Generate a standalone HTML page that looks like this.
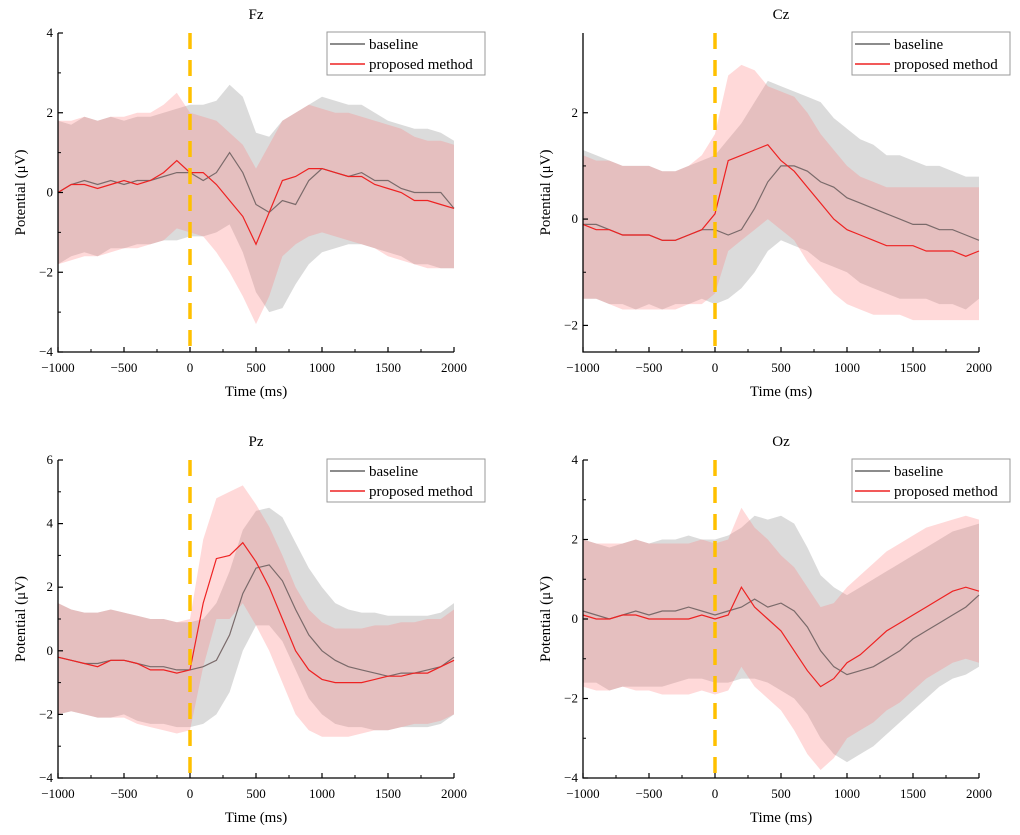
<!DOCTYPE html>
<html><head><meta charset="utf-8">
<style>
body{margin:0;background:#fff;}
svg{display:block;font-family:"Liberation Serif",serif;}
</style></head>
<body>
<svg id="chart" width="1020" height="835" viewBox="0 0 1020 835"></svg>
<script>
// Shared time axis (ms)
const times = [-1000,-900,-800,-700,-600,-500,-400,-300,-200,-100,0,100,200,300,400,500,600,700,800,900,1000,1100,1200,1300,1400,1500,1600,1700,1800,1900,2000];
const xTicks = [-1000,-500,0,500,1000,1500,2000];

// Fz
const fzBase = [0,0.2,0.3,0.2,0.3,0.2,0.3,0.3,0.4,0.5,0.5,0.3,0.5,1.0,0.5,-0.3,-0.5,-0.2,-0.3,0.3,0.6,0.5,0.4,0.5,0.3,0.3,0.1,0.0,0.0,0.0,-0.4];
const fzProp = [0,0.2,0.2,0.1,0.2,0.3,0.2,0.3,0.5,0.8,0.5,0.5,0.2,-0.2,-0.6,-1.3,-0.5,0.3,0.4,0.6,0.6,0.5,0.4,0.4,0.2,0.1,0.0,-0.2,-0.2,-0.3,-0.4];
const fzBaseUp = [1.8,1.7,1.9,1.8,1.9,1.8,1.9,1.9,2.0,2.1,2.2,2.2,2.3,2.7,2.4,1.5,1.4,1.8,2.0,2.2,2.4,2.3,2.2,2.2,2.0,1.8,1.7,1.6,1.6,1.5,1.3];
const fzBaseLo = [-1.8,-1.6,-1.5,-1.6,-1.4,-1.4,-1.3,-1.3,-1.2,-1.2,-1.1,-1.1,-1.0,-0.8,-1.5,-2.5,-3.0,-2.9,-2.3,-1.8,-1.5,-1.4,-1.3,-1.3,-1.4,-1.5,-1.6,-1.8,-1.8,-1.9,-1.9];
const fzPropUp = [1.8,1.8,1.9,1.8,1.9,1.9,2.0,2.0,2.2,2.5,2.0,1.9,1.8,1.5,1.2,0.6,1.2,1.8,2.0,2.2,2.1,2.0,2.0,1.9,1.8,1.7,1.6,1.4,1.3,1.3,1.2];
const fzPropLo = [-1.8,-1.7,-1.6,-1.6,-1.5,-1.4,-1.4,-1.3,-1.2,-0.9,-1.0,-1.1,-1.5,-2.0,-2.6,-3.3,-2.6,-1.6,-1.3,-1.1,-1.0,-1.1,-1.2,-1.3,-1.4,-1.6,-1.7,-1.8,-1.9,-1.9,-1.9];
const fzYTicks = [-4,-2,0,2,4];

// Cz
const czBase = [-0.1,-0.1,-0.2,-0.3,-0.3,-0.3,-0.4,-0.4,-0.3,-0.2,-0.2,-0.3,-0.2,0.2,0.7,1.0,1.0,0.9,0.7,0.6,0.4,0.3,0.2,0.1,0.0,-0.1,-0.1,-0.2,-0.2,-0.3,-0.4];
const czProp = [-0.1,-0.2,-0.2,-0.3,-0.3,-0.3,-0.4,-0.4,-0.3,-0.2,0.1,1.1,1.2,1.3,1.4,1.1,0.9,0.6,0.3,0.0,-0.2,-0.3,-0.4,-0.5,-0.5,-0.5,-0.6,-0.6,-0.6,-0.7,-0.6];
const czBaseUp = [1.3,1.2,1.1,1.0,1.0,1.0,0.9,0.9,1.0,1.1,1.2,1.5,1.8,2.2,2.6,2.5,2.4,2.3,2.2,1.9,1.7,1.5,1.4,1.2,1.2,1.1,1.0,1.0,0.9,0.8,0.8];
const czBaseLo = [-1.5,-1.5,-1.6,-1.6,-1.7,-1.6,-1.7,-1.6,-1.6,-1.5,-1.6,-1.5,-1.3,-1.0,-0.6,-0.4,-0.5,-0.6,-0.8,-0.9,-1.0,-1.2,-1.3,-1.4,-1.5,-1.5,-1.5,-1.6,-1.6,-1.7,-1.5];
const czPropUp = [1.2,1.1,1.1,1.0,1.0,1.0,0.9,0.9,1.0,1.2,1.6,2.7,2.9,2.8,2.5,2.4,2.3,2.0,1.6,1.3,1.0,0.8,0.7,0.6,0.6,0.6,0.6,0.6,0.6,0.6,0.6];
const czPropLo = [-1.5,-1.5,-1.6,-1.7,-1.7,-1.7,-1.7,-1.7,-1.6,-1.6,-1.4,-0.6,-0.4,-0.2,0.0,-0.2,-0.4,-0.8,-1.1,-1.4,-1.6,-1.7,-1.8,-1.8,-1.8,-1.9,-1.9,-1.9,-1.9,-1.9,-1.9];
const czYTicks = [-2,0,2];

// Pz
const pzBase = [-0.2,-0.3,-0.4,-0.4,-0.3,-0.3,-0.4,-0.5,-0.5,-0.6,-0.6,-0.5,-0.3,0.5,1.8,2.6,2.7,2.2,1.3,0.5,0.0,-0.3,-0.5,-0.6,-0.7,-0.8,-0.7,-0.7,-0.6,-0.5,-0.2];
const pzProp = [-0.2,-0.3,-0.4,-0.5,-0.3,-0.3,-0.4,-0.6,-0.6,-0.7,-0.6,1.5,2.9,3.0,3.4,2.8,2.0,1.0,0.0,-0.6,-0.9,-1.0,-1.0,-1.0,-0.9,-0.8,-0.8,-0.7,-0.7,-0.5,-0.3];
const pzBaseUp = [1.5,1.3,1.2,1.2,1.3,1.2,1.1,1.0,1.0,0.9,0.9,1.0,1.5,2.5,3.8,4.4,4.5,4.2,3.4,2.6,2.0,1.5,1.3,1.2,1.2,1.1,1.1,1.1,1.1,1.2,1.5];
const pzBaseLo = [-2.0,-1.9,-2.0,-2.1,-2.1,-2.0,-2.2,-2.3,-2.3,-2.4,-2.4,-2.3,-2.0,-1.3,0.0,0.8,0.8,0.3,-0.6,-1.5,-2.0,-2.3,-2.4,-2.4,-2.5,-2.5,-2.4,-2.4,-2.4,-2.3,-2.0];
const pzPropUp = [1.5,1.3,1.2,1.2,1.3,1.2,1.1,1.0,1.0,0.9,1.0,3.5,4.8,5.0,5.2,4.6,3.9,3.0,2.0,1.3,0.9,0.7,0.7,0.7,0.8,0.8,0.9,0.9,1.0,1.0,1.3];
const pzPropLo = [-2.0,-1.9,-2.0,-2.1,-2.1,-2.1,-2.3,-2.4,-2.5,-2.6,-2.5,-0.5,1.0,1.0,1.5,0.8,0.0,-1.0,-2.0,-2.5,-2.7,-2.7,-2.7,-2.6,-2.5,-2.5,-2.4,-2.3,-2.3,-2.2,-2.0];
const pzYTicks = [-4,-2,0,2,4,6];

// Oz
const ozBase = [0.2,0.1,0.0,0.1,0.2,0.1,0.2,0.2,0.3,0.2,0.1,0.2,0.3,0.5,0.3,0.4,0.2,-0.2,-0.8,-1.2,-1.4,-1.3,-1.2,-1.0,-0.8,-0.5,-0.3,-0.1,0.1,0.3,0.6];
const ozProp = [0.1,0.0,0.0,0.1,0.1,0.0,0.0,0.0,0.0,0.1,0.0,0.1,0.8,0.3,0.0,-0.3,-0.8,-1.3,-1.7,-1.5,-1.1,-0.9,-0.6,-0.3,-0.1,0.1,0.3,0.5,0.7,0.8,0.7];
const ozBaseUp = [2.0,1.9,1.8,1.9,2.0,1.9,2.0,2.0,2.1,2.0,2.0,2.1,2.3,2.6,2.5,2.6,2.4,1.8,1.1,0.8,0.6,0.8,1.0,1.2,1.4,1.6,1.8,2.0,2.2,2.3,2.4];
const ozBaseLo = [-1.6,-1.6,-1.8,-1.7,-1.7,-1.7,-1.7,-1.6,-1.5,-1.5,-1.6,-1.6,-1.5,-1.5,-1.6,-1.8,-2.0,-2.4,-3.0,-3.4,-3.6,-3.4,-3.2,-2.9,-2.6,-2.3,-2.0,-1.7,-1.5,-1.4,-1.2];
const ozPropUp = [2.0,1.9,1.9,1.9,2.0,1.9,1.9,1.9,1.9,2.0,1.9,2.0,2.8,2.3,2.0,1.6,1.3,0.8,0.3,0.4,0.8,1.1,1.4,1.7,1.9,2.1,2.3,2.4,2.5,2.6,2.5];
const ozPropLo = [-1.7,-1.8,-1.8,-1.7,-1.8,-1.8,-1.9,-1.9,-1.9,-1.8,-1.9,-1.8,-1.2,-1.7,-2.0,-2.3,-2.8,-3.4,-3.8,-3.5,-3.0,-2.8,-2.6,-2.3,-2.1,-1.8,-1.5,-1.3,-1.1,-1.0,-1.1];
const ozYTicks = [-4,-2,0,2,4];

const NS = 'http://www.w3.org/2000/svg';
const svg = document.getElementById('chart');
function mk(tag, attrs, parent){
  const e = document.createElementNS(NS, tag);
  for (const k in attrs) e.setAttribute(k, attrs[k]);
  (parent||svg).appendChild(e);
  return e;
}
function fmt(v){ return v < 0 ? '\u2212' + Math.abs(v) : String(v); }

function panel(cfg){
  const {name,title,x0,x1,y0,y1,ymin,ymax,yTicks,base,prop,bUp,bLo,pUp,pLo} = cfg;
  const g = mk('g', {});
  
  
  const xs = t => x0 + (t - (-1000)) / 3000 * (x1 - x0);
  const ys = v => y1 - (v - ymin) / (ymax - ymin) * (y1 - y0);
  function band(up, lo, fill, nm){
    let d = 'M';
    times.forEach((t,i)=>{ d += xs(t).toFixed(1)+','+ys(up[i]).toFixed(1)+' L'; });
    for (let i=times.length-1;i>=0;i--){ d += xs(times[i]).toFixed(1)+','+ys(lo[i]).toFixed(1)+(i?' L':' Z'); }
    const p = mk('path', {d:d, fill:fill, stroke:'none'}, g);
    
    
  }
  function line(vals, col, nm){
    const pts = times.map((t,i)=>xs(t).toFixed(1)+','+ys(vals[i]).toFixed(1)).join(' ');
    const p = mk('polyline', {points:pts, fill:'none', stroke:col, 'stroke-width':1.2}, g);
    
    
  }
  band(bUp, bLo, 'rgba(170,170,170,0.42)', 'baseline-band');
  band(pUp, pLo, 'rgba(255,120,120,0.28)', 'proposed-band');
  line(base, '#7a6a6a', 'baseline-line');
  line(prop, '#ee2222', 'proposed-line');
  // dashed onset line
  const on = mk('line', {x1:xs(0), x2:xs(0), y1:y0, y2:y1, stroke:'#FFC000', 'stroke-width':3.5, 'stroke-dasharray':'16,11'}, g);
  
  
  // axes
  const ax = mk('path', {d:`M${x0},${y0} L${x0},${y1} L${x1},${y1}`, fill:'none', stroke:'#000', 'stroke-width':1.3}, g);
  
  
  xTicks.forEach(t=>{
    mk('line', {x1:xs(t), x2:xs(t), y1:y1, y2:y1-5, stroke:'#000', 'stroke-width':1.2}, g);
    if (t < 2000) mk('line', {x1:xs(t+250), x2:xs(t+250), y1:y1, y2:y1-3, stroke:'#000', 'stroke-width':1}, g);
    const tx = mk('text', {x:xs(t), y:y1+20, 'text-anchor':'middle', 'font-size':13}, g);
    tx.textContent = fmt(t);
    
    
  });
  yTicks.forEach((v,i)=>{
    mk('line', {x1:x0, x2:x0+5, y1:ys(v), y2:ys(v), stroke:'#000', 'stroke-width':1.2}, g);
    if (i < yTicks.length-1) { const m=(v+yTicks[i+1])/2; mk('line', {x1:x0, x2:x0+3, y1:ys(m), y2:ys(m), stroke:'#000', 'stroke-width':1}, g); }
    const tx = mk('text', {x:x0-5, y:ys(v)+4, 'text-anchor':'end', 'font-size':13}, g);
    tx.textContent = fmt(v);
    
    
  });
  const tt = mk('text', {x:(x0+x1)/2, y:y0-14, 'text-anchor':'middle', 'font-size':15}, g);
  tt.textContent = title;
  
  
  const xt = mk('text', {x:(x0+x1)/2, y:y1+44, 'text-anchor':'middle', 'font-size':15}, g);
  xt.textContent = 'Time (ms)';
  
  
  const cy = (y0+y1)/2, cx = x0-33;
  const yt = mk('text', {x:cx, y:cy, 'text-anchor':'middle', 'font-size':15, transform:`rotate(-90 ${cx} ${cy})`}, g);
  yt.textContent = 'Potential (\u03bcV)';
  
  
  // legend
  const lx = x0 + 269, ly = y0 - 1;
  const lg = mk('g', {}, g);
  
  
  mk('rect', {x:lx, y:ly, width:158, height:43, fill:'#fff', stroke:'#999', 'stroke-width':1}, lg);
  mk('line', {x1:lx+3, x2:lx+38, y1:ly+12, y2:ly+12, stroke:'#666', 'stroke-width':1.5}, lg);
  mk('line', {x1:lx+3, x2:lx+38, y1:ly+32, y2:ly+32, stroke:'#ee2222', 'stroke-width':1.5}, lg);
  const l1 = mk('text', {x:lx+42, y:ly+17, 'font-size':15}, lg);
  l1.textContent = 'baseline';
  
  
  const l2 = mk('text', {x:lx+42, y:ly+37, 'font-size':15}, lg);
  l2.textContent = 'proposed method';
  
  
}

panel({name:'fz',title:'Fz',x0:58,x1:454,y0:33,y1:352,ymin:-4,ymax:4,yTicks:fzYTicks,base:fzBase,prop:fzProp,bUp:fzBaseUp,bLo:fzBaseLo,pUp:fzPropUp,pLo:fzPropLo});
panel({name:'cz',title:'Cz',x0:583,x1:979,y0:33,y1:352,ymin:-2.5,ymax:3.5,yTicks:czYTicks,base:czBase,prop:czProp,bUp:czBaseUp,bLo:czBaseLo,pUp:czPropUp,pLo:czPropLo});
panel({name:'pz',title:'Pz',x0:58,x1:454,y0:460,y1:778,ymin:-4,ymax:6,yTicks:pzYTicks,base:pzBase,prop:pzProp,bUp:pzBaseUp,bLo:pzBaseLo,pUp:pzPropUp,pLo:pzPropLo});
panel({name:'oz',title:'Oz',x0:583,x1:979,y0:460,y1:778,ymin:-4,ymax:4,yTicks:ozYTicks,base:ozBase,prop:ozProp,bUp:ozBaseUp,bLo:ozBaseLo,pUp:ozPropUp,pLo:ozPropLo});
</script>
</body></html>
